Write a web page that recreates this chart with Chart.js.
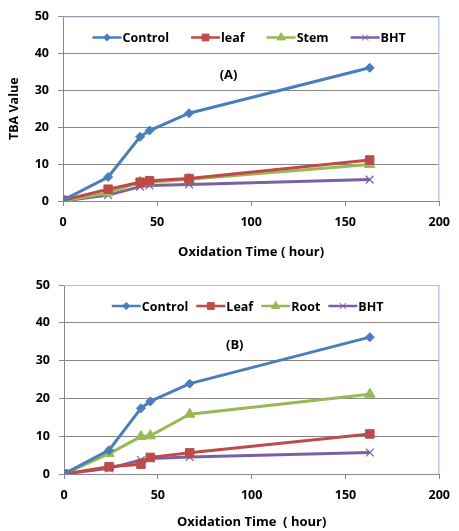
<!DOCTYPE html>
<html>
<head>
<meta charset="utf-8">
<script src="https://cdn.jsdelivr.net/npm/chart.js@4.4.1/dist/chart.umd.min.js"></script>
<style>
  body { margin: 0; background: #fff; }
  .wrap { position: relative; width: 459px; }
  #chartA { display: block; width: 459px; height: 265px; }
  #chartB { display: block; width: 459px; height: 266px; }
</style>
</head>
<body>
<div class="wrap"><canvas id="chartA" width="459" height="265"></canvas></div>
<div class="wrap"><canvas id="chartB" width="459" height="266"></canvas></div>
<script>
  // Sampling times (hours)
  const hours = [0, 24, 41, 46, 67, 163];
  const xTicks = [0, 50, 100, 150, 200];
  const yTicks = [0, 10, 20, 30, 40, 50];

  // Panel A
  const controlA = [0.2, 6.5, 17.4, 19.1, 23.8, 36.1];
  const leafA    = [0.2, 3.2, 5.1, 5.5, 6.1, 11.1];
  const stemA    = [0, 2.2, 5.1, 5.1, 5.9, 9.9];
  const bhtA     = [0, 1.6, 3.9, 4.2, 4.5, 5.8];

  // Panel B
  const controlB = [0, 6.3, 17.4, 19.2, 23.9, 36.2];
  const leafB    = [0, 1.9, 2.6, 4.4, 5.6, 10.6];
  const rootB    = [0, 5.4, 9.9, 10.1, 15.8, 21.1];
  const bhtB     = [0, 1.5, 3.7, 4.1, 4.5, 5.7];

  const FONT = '"Open Sans"';
  const BLUE = '#4a7ebb', RED = '#be4b48', GREEN = '#98b954', PURPLE = '#7d60a0';

  function pts(values) {
    return hours.map((h, i) => ({ x: h, y: values[i] }));
  }

  function series(label, values, color, style, radius) {
    return {
      label: label,
      data: pts(values),
      borderColor: color,
      backgroundColor: color,
      borderWidth: 3,
      pointStyle: style,
      pointRadius: radius,
      pointBorderWidth: style === 'crossRot' ? 1.2 : 1,
      pointBorderColor: color,
      tension: 0
    };
  }

  // legend drawn inside the plot area, plus panel tag and light blue border
  const insidePlugin = {
    id: 'inside',
    beforeDatasetsDraw(chart, args, opts) {
      const { ctx, chartArea: a } = chart;
      ctx.save();
      ctx.strokeStyle = '#a9c1e0';
      ctx.lineWidth = 1.2;
      ctx.beginPath();
      ctx.moveTo(a.left, a.top + 0.5);
      ctx.lineTo(a.right - 0.5, a.top + 0.5);
      ctx.lineTo(a.right - 0.5, a.bottom);
      ctx.stroke();
      ctx.restore();
    },
    afterDraw(chart, args, opts) {
      const { ctx, chartArea: a, scales } = chart;
      ctx.save();
      ctx.font = 'bold 12.5px ' + FONT;
      ctx.textBaseline = 'middle';
      const lineLen = 29;
      const items = chart.data.datasets.map(ds => ({
        ds: ds, w: lineLen + 1 + ctx.measureText(ds.label).width
      }));
      const total = items.reduce((s, it) => s + it.w, 0) + opts.gap * (items.length - 1);
      let x = (a.left + a.right) / 2 - total / 2 + opts.shift;
      const y = a.top + opts.legendY;
      items.forEach(it => {
        ctx.strokeStyle = it.ds.borderColor;
        ctx.lineWidth = 2.5;
        ctx.beginPath();
        ctx.moveTo(x, y);
        ctx.lineTo(x + lineLen, y);
        ctx.stroke();
        ctx.fillStyle = it.ds.backgroundColor;
        ctx.strokeStyle = it.ds.borderColor;
        ctx.lineWidth = 1;
        Chart.helpers.drawPoint(ctx, {
          pointStyle: it.ds.pointStyle, radius: it.ds.pointRadius * 0.8, rotation: 0, borderWidth: 1
        }, x + lineLen / 2, y);
        ctx.fillStyle = '#000';
        ctx.textAlign = 'left';
        ctx.fillText(it.ds.label, x + lineLen + 1, y + 1);
        x += it.w + opts.gap;
      });
      ctx.font = 'bold 13px ' + FONT;
      ctx.textAlign = 'center';
      ctx.fillText(opts.tag, scales.x.getPixelForValue(opts.tagX), scales.y.getPixelForValue(opts.tagY));
      ctx.restore();
    }
  };

  function makeChart(id, datasets, o) {
    return new Chart(document.getElementById(id).getContext('2d'), {
      type: 'line',
      data: { datasets: datasets },
      plugins: [insidePlugin],
      options: {
        responsive: false,
        animation: false,
        layout: { padding: { top: o.top, right: o.right, left: 0, bottom: 0 } },
        plugins: {
          legend: { display: false },
          tooltip: { enabled: false },
          inside: { gap: o.gap, shift: o.shift, legendY: o.legendY, tag: o.tag, tagX: o.tagX, tagY: 34 }
        },
        scales: {
          x: {
            type: 'linear', min: 0, max: 200,
            afterBuildTicks: s => { s.ticks = xTicks.map(v => ({ value: v })); },
            afterFit: s => { s.height = o.xHeight; },
            grid: { display: true, drawOnChartArea: false, drawTicks: true, tickLength: 5, color: '#878787' },
            border: { color: '#878787', width: 1 },
            ticks: { padding: 9, color: '#000', font: { family: FONT, size: 12.5, weight: 'bold' } },
            title: {
              display: true, text: o.xTitle, color: '#000',
              font: { family: FONT, size: 13, weight: 'bold' },
              padding: { top: 0, bottom: o.xTitlePad }
            }
          },
          y: {
            min: 0, max: 50,
            afterBuildTicks: s => { s.ticks = yTicks.map(v => ({ value: v })); },
            afterFit: s => { s.width = o.yWidth; },
            grid: { color: '#878787', tickLength: 5, lineWidth: 1 },
            border: { color: '#878787', width: 1 },
            ticks: { padding: 9, color: '#000', font: { family: FONT, size: 12.5, weight: 'bold' } },
            title: {
              display: o.yTitle !== '', text: o.yTitle, color: '#000',
              font: { family: FONT, size: 12.5, weight: 'bold' },
              padding: { top: 7, bottom: 0 }
            }
          }
        }
      }
    });
  }

  makeChart('chartA', [
    series('Control', controlA, BLUE, 'rectRot', 4.5),
    series('leaf', leafA, RED, 'rect', 6),
    series('Stem', stemA, GREEN, 'triangle', 6),
    series('BHT', bhtA, PURPLE, 'crossRot', 5.5)
  ], { top: 11, right: 13, yWidth: 63, xHeight: 64, xTitlePad: 5,
       xTitle: 'Oxidation Time ( hour)', yTitle: 'TBA Value',
       gap: 22, shift: -2, legendY: 21, tag: '(A)', tagX: 88 });

  makeChart('chartB', [
    series('Control', controlB, BLUE, 'rectRot', 4.5),
    series('Leaf', leafB, RED, 'rect', 6),
    series('Root', rootB, GREEN, 'triangle', 6),
    series('BHT', bhtB, PURPLE, 'crossRot', 5.5)
  ], { top: 20, right: 15, yWidth: 64, xHeight: 57, xTitlePad: 1,
       xTitle: 'Oxidation Time  ( hour)', yTitle: '',
       gap: 8, shift: -4, legendY: 21, tag: '(B)', tagX: 91 });
</script>
</body>
</html>
